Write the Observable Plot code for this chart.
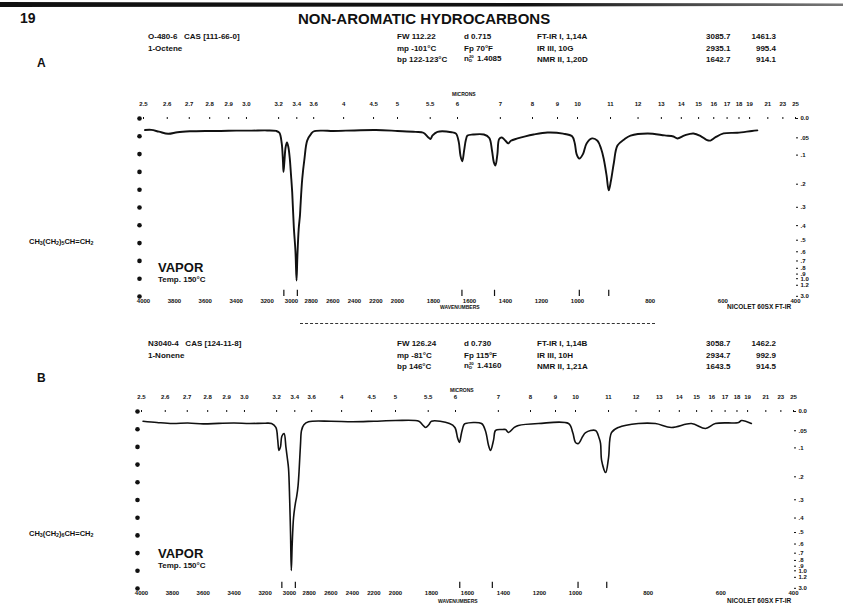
<!DOCTYPE html>
<html><head><meta charset="utf-8">
<script src="https://cdn.jsdelivr.net/npm/d3@7"></script>
<script src="https://cdn.jsdelivr.net/npm/@observablehq/plot@0.6"></script>
<style>
html,body{margin:0;padding:0;background:#fff;}
body{width:843px;height:609px;overflow:hidden;position:relative;font-family:"Liberation Sans",Arial,sans-serif;color:#111;}
.t{position:absolute;white-space:pre;font-weight:bold;line-height:1;}
.svgwrap{position:absolute;left:0;}
.nd{display:inline-flex;flex-direction:column;font-size:0.55em;line-height:0.9;vertical-align:middle;margin:0 1px 0 0;}
sub{font-size:0.7em;vertical-align:-0.25em;line-height:0;}
</style></head><body>
<script>
// ---------------- data ----------------
const pageNumber = "19";
const pageTitle = "NON-AROMATIC HYDROCARBONS";

// wavenumber axis (cm-1), micron axis, transmittance and absorbance ticks
const wavenumberTicks = [4000,3800,3600,3400,3200,3000,2800,2600,2400,2200,2000,1800,1600,1400,1200,1000,800,600,400];
const micronTicks = [2.5,2.6,2.7,2.8,2.9,3.0,3.2,3.4,3.6,4,4.5,5,5.5,6,7,8,9,10,11,12,13,14,15,16,17,18,19,21,23,25];
const micronLabels = ["2.5","2.6","2.7","2.8","2.9","3.0","3.2","3.4","3.6","4","4.5","5","5.5","6","7","8","9","10","11","12","13","14","15","16","17","18","19","21","23","25"];
const transmittanceTicks = [0,10,20,30,40,50,60,70,80,90,100];
const absorbanceTicks = [0,0.05,0.1,0.2,0.3,0.4,0.5,0.6,0.7,0.8,0.9,1.0,1.2,3.0];
const absorbanceLabels = ["0.0",".05",".1",".2",".3",".4",".5",".6",".7",".8",".9","1.0","1.2","3.0"];

// Panel A: 1-Octene vapor, [wavenumber, %T]
const spectrumA = [
 [3990,93.5],[3950,93.6],[3900,92.6],[3840,91.4],[3780,92.3],[3700,92.8],[3600,93],[3500,93],[3400,93.2],[3300,93.2],[3200,93.3],
 [3140,93],[3120,92],[3105,86],[3095,76],[3089,70],[3080,75],[3065,84],[3050,86.5],[3035,84],[3020,78],[3005,68],
 [2992,58.4],[2974,38.8],[2956,25.3],[2944,9],[2935,22],[2920,38],[2906,45.5],[2900,51],[2884,66],[2863,77.5],[2838,87.6],
 [2800,91.5],[2779,92.7],[2700,93.2],[2600,93],[2400,93.3],[2200,93.5],[2000,93.0],[1900,92.5],[1856,92],[1830,89.5],[1817,88.5],
 [1805,90.5],[1778,92.5],[1700,92.3],[1675,91.5],[1660,87],[1650,79],[1640,76],[1630,82],[1620,88],[1611,90.4],[1580,91],
 [1520,91],[1490,89],[1475,82],[1465,75.5],[1456,73.6],[1445,80],[1435,88.5],[1420,89.3],[1400,87.5],[1385,86],[1370,87.5],
 [1333,88.8],[1290,90],[1244,91],[1167,92.1],[1080,91.5],[1030,90],[1015,86],[1005,80],[995,77.5],[985,80],[975,86],[960,88.8],
 [945,87.5],[935,83],[928,77.5],[920,68],[914,59.6],[908,65],[900,75],[890,84.8],[870,88.5],[854,90.4],[807,91.6],[760,90.5],
 [736,89.9],[725,88.8],[705,90.5],[681,91.6],[660,90],[645,88],[634,87.6],[620,89.5],[598,91.6],[560,92],[520,93],[505,93.3]
];
const peaksA = [3085,2935,1642,1461,995,914];

// Panel B: 1-Nonene vapor, [wavenumber, %T]
const spectrumB = [
 [3990,94.5],[3900,93.8],[3800,93.2],[3700,93.5],[3600,93],[3500,93.3],[3400,93.5],[3300,93.2],[3200,93.4],[3158,93.2],
 [3130,91],[3118,84],[3110,78],[3100,80],[3085,86],[3060,87.5],[3040,80],[3025,74],[3011,68],[2998,50],[2988,30],[2980,10.2],
 [2970,25],[2955,40],[2935,48],[2920,52],[2905,58],[2895,66],[2881,82],[2872,89.3],[2850,92.5],[2807,94.2],[2600,94.5],
 [2400,94.2],[2200,94.5],[2000,94.9],[1870,94.5],[1850,92.5],[1833,91],[1815,92.5],[1800,94.5],[1700,93.2],[1670,91],
 [1655,85],[1645,82.5],[1633,88],[1620,92.5],[1611,93.2],[1522,93.2],[1500,89],[1483,80.8],[1472,78],[1455,84],[1444,89.3],
 [1410,89.8],[1389,89.8],[1372,88.1],[1340,91],[1317,92.1],[1206,93.2],[1039,93.2],[1015,88],[1000,82.5],[992,81.9],[980,86],
 [972,88.1],[945,89.3],[935,85],[931,81.9],[928,72.3],[917,65.5],[909,74],[901,88.1],[882,91],[827,93.2],[780,93.2],[736,91],
 [681,93.2],[642,90.4],[615,93.2],[551,93.8],[543,94.9],[516,93.2]
];
const peaksB = [3085,2935,1643,1462,993,914];

// header texts
const headerA = [
 ["O-480-6   CAS [111-66-0]","1-Octene"],
 ["FW 112.22","mp -101°C","bp 122-123°C"],
 ["d 0.715","Fp 70°F","1.4085"],
 ["FT-IR I, 1,14A","IR III, 10G","NMR II, 1,20D"],
 ["3085.7","2935.1","1642.7"],
 ["1461.3","995.4","914.1"]
];
const headerB = [
 ["N3040-4   CAS [124-11-8]","1-Nonene"],
 ["FW 126.24","mp -81°C","bp 146°C"],
 ["d 0.730","Fp 115°F","1.4160"],
 ["FT-IR I, 1,14B","IR III, 10H","NMR II, 1,21A"],
 ["3058.7","2934.7","1643.5"],
 ["1462.2","992.9","914.5"]
];
const formulaA = 'CH<sub>3</sub>(CH<sub>2</sub>)<sub>5</sub>CH=CH<sub>2</sub>';
const formulaB = 'CH<sub>3</sub>(CH<sub>2</sub>)<sub>6</sub>CH=CH<sub>2</sub>';
const stateLabel = "VAPOR";
const tempLabel = "Temp. 150°C";
const instrumentLabel = "NICOLET 60SX FT-IR";
const xTitle = "WAVENUMBERS";
const topTitle = "MICRONS";

// ---------------- layout ----------------
const xKnots = [4000,3100,2900,2000,1000,400];
const xPix = [143,282,300,397,577,795];
const fmtW = d3.format("d");
const absValues = absorbanceTicks.map(a => 100 * Math.pow(10, -a));
const absMap = new Map(absValues.map((v,i)=>[v, absorbanceLabels[i]]));
const micValues = micronTicks.map(m => 10000 / m);
const micMap = new Map(micValues.map((v,i)=>[v, micronLabels[i]]));

function addText(html, x, y, size, extra="") {
  const d = document.createElement("div");
  d.className = "t";
  d.style.left = x + "px"; d.style.top = y + "px"; d.style.fontSize = size + "px";
  if (extra) d.style.cssText += extra;
  d.innerHTML = html;
  document.body.appendChild(d);
  return d;
}

function panel(spectrum, peaks, top, h, mb, shift, sw) {
  const range = xPix.map(v => v + shift);
  const chart = Plot.plot({
    width: 843, height: h,
    marginLeft: 143 + shift, marginRight: 843 - 795 - shift, marginTop: 30, marginBottom: mb,
    x: {type: "linear", domain: xKnots, range},
    y: {domain: [0, 100]},
    style: {fontFamily: "Liberation Sans, Arial, sans-serif", fontWeight: "bold", fontSize: "6px", color: "#111", background: "transparent", overflow: "visible"},
    marks: [
      Plot.axisX({anchor: "bottom", ticks: wavenumberTicks, tickFormat: fmtW, tickSize: 0, tickPadding: 2, label: null}),
      Plot.axisX({anchor: "top", ticks: micValues, tickFormat: d => micMap.get(d), tickSize: 2, tickPadding: 11, label: null}),
      Plot.axisY({anchor: "right", ticks: absValues, tickFormat: d => absMap.get(d), tickSize: 2, tickPadding: 3, label: null}),
      Plot.dot(transmittanceTicks, {x: () => 4000, y: d => d, dx: -4, r: 2.3, fill: "#111", stroke: "none"}),
      Plot.ruleX(peaks, {x: d => d, y1: 0, y2: 3.5, stroke: "#111", strokeWidth: 1.2}),
      Plot.line(spectrum, {x: d => d[0], y: d => d[1], stroke: "#111", strokeWidth: sw, curve: "catmull-rom"})
    ]
  });
  const wrap = document.createElement("div");
  wrap.className = "svgwrap";
  wrap.style.top = top + "px";
  wrap.appendChild(chart);
  document.body.appendChild(wrap);
}

// top rule
const bar = document.createElement("div");
bar.style.cssText = "position:absolute;left:0;top:2px;width:843px;height:5px;background:linear-gradient(to right,#111 0%,#111 62%,#444 80%,#777 100%);clip-path:polygon(0 0,100% 30%,100% 80%,0 100%);";
document.body.appendChild(bar);

panel(spectrumA, peaksA, 88, 240, 32, 0, 1.9);
panel(spectrumB, peaksB, 381, 228, 21, -2, 1.6);

// page heading
addText(pageNumber, 20, 11, 14);
addText(pageTitle, 298, 11, 15);

function header(cols, y0, letter, ly) {
  const xs = [148, 397, 464, 537, 706];
  cols.forEach((col, c) => {
    col.forEach((s, r) => {
      if (c === 5) {
        addText(s, 0, y0 + r*11.5, 8, "left:auto;right:" + (843-776) + "px;");
      } else if (c === 2 && r === 2) {
        addText('n<span class="nd"><span>20</span><span>D</span></span> ' + s, xs[c], y0 + r*11.5 - 1, 8);
      } else {
        addText(s, xs[c], y0 + r*11.5, 8);
      }
    });
  });
  addText(letter, 37, ly, 12);
}
header(headerA, 33, "A", 57);
header(headerB, 340, "B", 372);

// dashed separator
const sep = document.createElement("div");
sep.style.cssText = "position:absolute;left:300px;top:323px;width:355px;height:0;border-top:1.5px dashed #333;";
document.body.appendChild(sep);

// in-plot labels
addText(formulaA, 29, 238, 7.5);
addText(formulaB, 29, 530, 7.5);
addText(stateLabel, 158, 261, 13);
addText(tempLabel, 158, 276, 8);
addText(stateLabel, 158, 547, 13);
addText(tempLabel, 158, 562, 8);
addText(instrumentLabel, 727, 304, 6.5);
addText(instrumentLabel, 727, 598, 6.5);
addText(xTitle, 440, 305, 5);
addText(xTitle, 438, 599, 5);
addText(topTitle, 452, 92, 5);
addText(topTitle, 450, 388, 5);
</script>
</body></html>
